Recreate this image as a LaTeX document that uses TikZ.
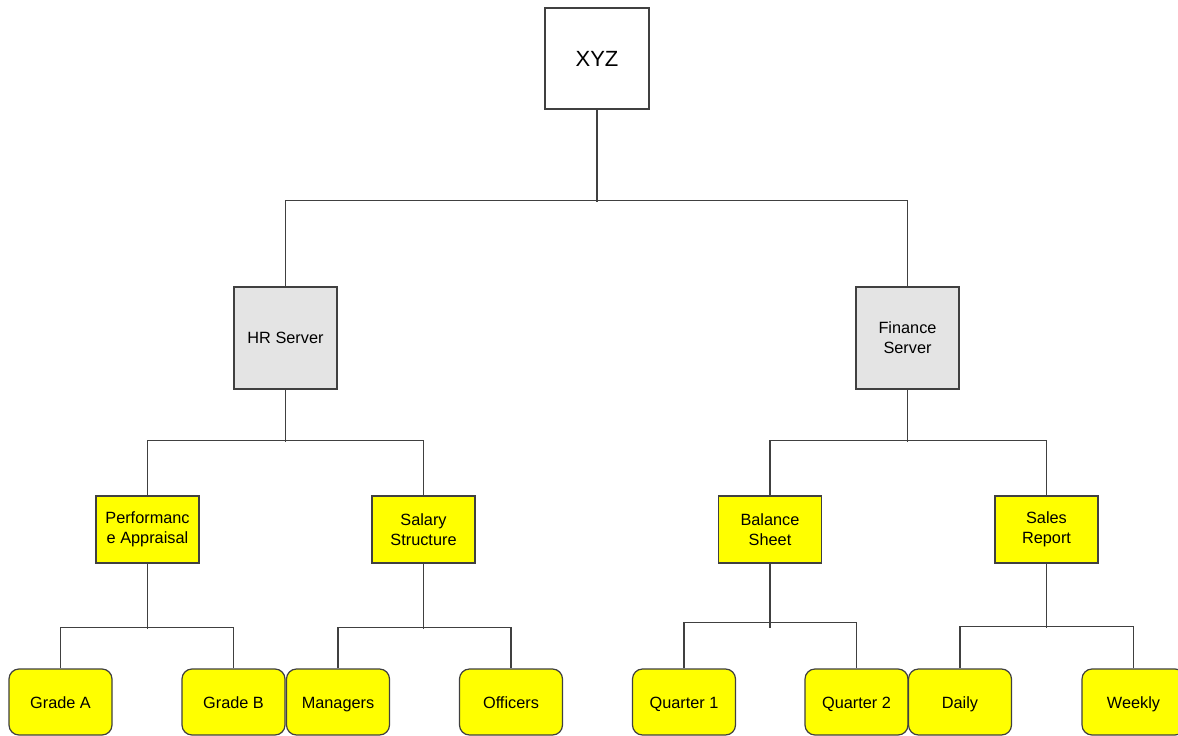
\documentclass[tikz,border=0pt]{standalone}
\usepackage{fontspec}
\setmainfont{Liberation Sans}
\definecolor{boxyellow}{RGB}{255,255,0}
\definecolor{servergray}{RGB}{228,228,228}
\tikzset{
    box/.style={draw=black!75, line width=1.2pt, inner sep=0pt, align=center,
        font=\fontsize{16.3}{20}\selectfont},
    topbox/.style={box, fill=white, minimum width=104, minimum height=101,
        font=\fontsize{22}{24}\selectfont},
    server/.style={box, fill=servergray, minimum width=103, minimum height=102},
    section/.style={box, fill=boxyellow, minimum width=103, minimum height=67},
    leaf/.style={box, fill=boxyellow, minimum width=103, minimum height=66,
        rounded corners=10pt, text height=14pt, text depth=2pt},
    link/.style={draw=black!75, line width=1.2pt}
}
\begin{document}
\begin{tikzpicture}[x=1pt,y=-1pt]
    \useasboundingbox[fill=white] (0,0) rectangle (1178,736);
    % boxes
    \node[topbox] (xyz) at (597,58.5) {XYZ};
    \node[server] (hr) at (285.5,338) {HR Server};
    \node[server] (fin) at (907.5,338) {Finance\\Server};
    \node[section] (perf) at (147.5,529.5) {Performanc\\e Appraisal};
    \node[section] (sal) at (423.5,529.5) {Salary\\Structure};
    \node[section] (bal) at (770,529.5) {Balance\\Sheet};
    \node[section] (sales) at (1046.5,529.5) {Sales\\Report};
    \node[leaf] (gradea) at (60.5,702) {Grade A};
    \node[leaf] (gradeb) at (233.5,702) {Grade B};
    \node[leaf] (mgr) at (338,702) {Managers};
    \node[leaf] (off) at (511,702) {Officers};
    \node[leaf] (qone) at (684,702) {Quarter 1};
    \node[leaf] (qtwo) at (856.5,702) {Quarter 2};
    \node[leaf] (daily) at (960,702) {Daily};
    \node[leaf] (weekly) at (1133.5,702) {Weekly};
    % connectors
    \draw[link] (xyz.south) -- ++(0,92);
    \draw[link] (hr.north) -- ++(0,-86) -| (fin.north);
    \draw[link] (hr.south) -- ++(0,52);
    \draw[link] (perf.north) -- ++(0,-55) -| (sal.north);
    \draw[link] (fin.south) -- ++(0,52);
    \draw[link] (bal.north) -- ++(0,-55) -| (sales.north);
    \draw[link] (perf.south) -- ++(0,65);
    \draw[link] (gradea.north) -- ++(0,-41) -| (gradeb.north);
    \draw[link] (sal.south) -- ++(0,65);
    \draw[link] (mgr.north) -- ++(0,-41) -| (off.north);
    \draw[link] (bal.south) -- ++(0,64);
    \draw[link] (qone.north) -- ++(0,-46) -| (qtwo.north);
    \draw[link] (sales.south) -- ++(0,64);
    \draw[link] (daily.north) -- ++(0,-42) -| (weekly.north);
\end{tikzpicture}
\end{document}
